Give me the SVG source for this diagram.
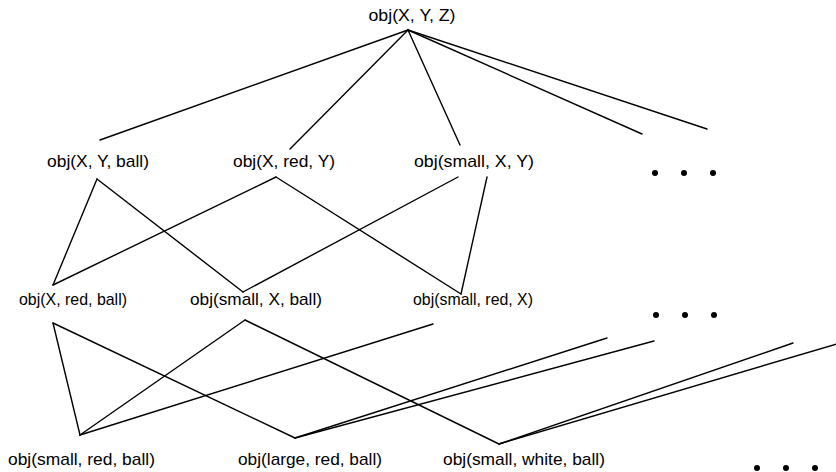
<svg xmlns="http://www.w3.org/2000/svg" width="836" height="472" viewBox="0 0 836 472">
<style>
.lbl{font-family:"Liberation Sans",Arial,sans-serif;font-size:17px;fill:#000;text-anchor:middle}
.e{stroke:#000;stroke-width:1.4;fill:none;stroke-linecap:round}
.dot{fill:#000}
</style>
<rect width="836" height="472" fill="#fff"/>
<g id="connectors">
<line class="e" x1="408" y1="30" x2="100" y2="140"/>
<line class="e" x1="408" y1="30" x2="290" y2="149"/>
<line class="e" x1="408" y1="30" x2="460" y2="145"/>
<line class="e" x1="408" y1="30" x2="642" y2="134"/>
<line class="e" x1="408" y1="30" x2="707" y2="129"/>
<line class="e" x1="97" y1="179" x2="53" y2="285"/>
<line class="e" x1="97" y1="179" x2="243" y2="292"/>
<line class="e" x1="276" y1="177" x2="53" y2="285"/>
<line class="e" x1="276" y1="177" x2="461" y2="294"/>
<line class="e" x1="458" y1="177" x2="243" y2="292"/>
<line class="e" x1="487" y1="177" x2="461" y2="294"/>
<line class="e" x1="53" y1="323" x2="80" y2="435"/>
<line class="e" x1="53" y1="323" x2="295" y2="438"/>
<line class="e" x1="245" y1="320" x2="80" y2="435"/>
<line class="e" x1="245" y1="320" x2="499" y2="444"/>
<line class="e" x1="433" y1="324" x2="80" y2="435"/>
<line class="e" x1="295" y1="438" x2="607" y2="338"/>
<line class="e" x1="295" y1="438" x2="654" y2="341"/>
<line class="e" x1="499" y1="444" x2="793" y2="343"/>
<line class="e" x1="499" y1="444" x2="840" y2="343"/>
</g>
<g id="n-xyz"><text class="lbl" x="412" y="21" textLength="87" lengthAdjust="spacingAndGlyphs">obj(X, Y, Z)</text></g>
<g id="n-xyball"><text class="lbl" x="98" y="167" textLength="102" lengthAdjust="spacingAndGlyphs">obj(X, Y, ball)</text></g>
<g id="n-xredy"><text class="lbl" x="284" y="167" textLength="102" lengthAdjust="spacingAndGlyphs">obj(X, red, Y)</text></g>
<g id="n-smallxy"><text class="lbl" x="474" y="167" textLength="120" lengthAdjust="spacingAndGlyphs">obj(small, X, Y)</text></g>
<g id="dots1"><circle class="dot" cx="655" cy="173" r="3"/><circle class="dot" cx="684" cy="173" r="3"/><circle class="dot" cx="713" cy="173" r="3"/></g>
<g id="n-xredball"><text class="lbl" x="73" y="305" textLength="108" lengthAdjust="spacingAndGlyphs">obj(X, red, ball)</text></g>
<g id="n-smallxball"><text class="lbl" x="256" y="305" textLength="132" lengthAdjust="spacingAndGlyphs">obj(small, X, ball)</text></g>
<g id="n-smallredx"><text class="lbl" x="473" y="305" textLength="120" lengthAdjust="spacingAndGlyphs">obj(small, red, X)</text></g>
<g id="dots2"><circle class="dot" cx="656" cy="315" r="3"/><circle class="dot" cx="685" cy="315" r="3"/><circle class="dot" cx="714" cy="315" r="3"/></g>
<g id="n-smallredball"><text class="lbl" x="81.5" y="465" textLength="147" lengthAdjust="spacingAndGlyphs">obj(small, red, ball)</text></g>
<g id="n-largeredball"><text class="lbl" x="310" y="465" textLength="144" lengthAdjust="spacingAndGlyphs">obj(large, red, ball)</text></g>
<g id="n-smallwhiteball"><text class="lbl" x="524" y="465" textLength="162" lengthAdjust="spacingAndGlyphs">obj(small, white, ball)</text></g>
<g id="dots3"><circle class="dot" cx="757" cy="468" r="3"/><circle class="dot" cx="786" cy="468" r="3"/><circle class="dot" cx="815" cy="468" r="3"/></g>
</svg>
